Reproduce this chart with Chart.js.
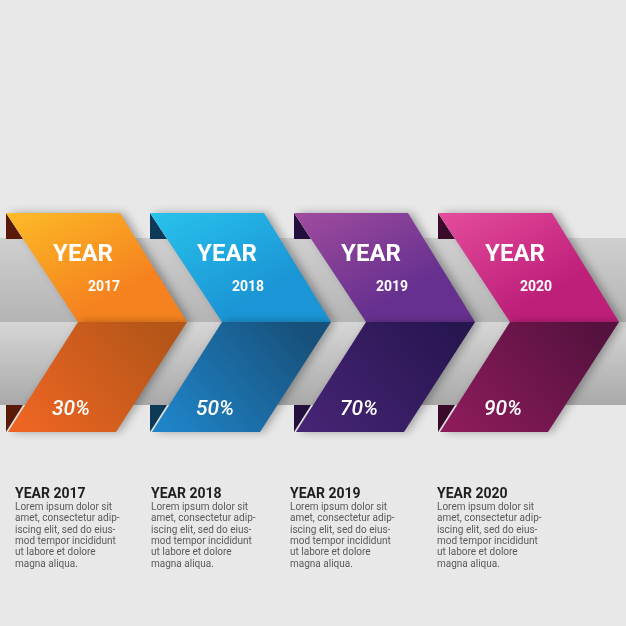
<!DOCTYPE html>
<html><head><meta charset="utf-8">
<script src="https://cdn.jsdelivr.net/npm/chart.js@4"></script>
<style>html,body{margin:0;padding:0;background:#e8e8e8;}#c{display:block}</style>
</head><body>
<div style="width:626px;height:626px"><canvas id="c"></canvas></div>
<script>
const years = ["2017","2018","2019","2020"];
const percents = [30,50,70,90];
const topColors = [["#fdbb27","#f5821f"],["#28c3ec","#1b95d5"],["#a04c9e","#66308f"],["#e64d9c","#bd1f79"]];
const botColors = [["#ee6523","#b35618"],["#1f84c8","#17507a"],["#452474","#281651"],["#8d1b5c","#55123f"]];
const darkTri = ["#5a1a0a","#0e3a5a","#24103f","#3a0a2a"];
const textX = [15,151,290,437];
const bodyLines = ["Lorem ipsum dolor sit","amet, consectetur adip-","iscing elit, sed do eius-","mod tempor incididunt","ut labore et dolore","magna aliqua."];

const plugin = {
  id:'chev',
  beforeDatasetsDraw(chart){
    const ctx=chart.ctx, xs=chart.scales.x, ys=chart.scales.y;
    const Y=v=>ys.getPixelForValue(v);
    const top=Y(213), mid=Y(322), bot=Y(432), bandT=Y(238), bandB=Y(405);
    let g=ctx.createLinearGradient(0,bandT,0,mid);
    g.addColorStop(0,'#cfcfcf');g.addColorStop(1,'#b4b4b4');
    ctx.fillStyle=g;ctx.fillRect(0,bandT,626,mid-bandT);
    g=ctx.createLinearGradient(0,mid,0,bandB);
    g.addColorStop(0,'#d6d6d6');g.addColorStop(1,'#a9a9a9');
    ctx.fillStyle=g;ctx.fillRect(0,mid,626,bandB-mid);
    years.forEach((yr,i)=>{
      const L=xs.getPixelForValue(i);
      ctx.fillStyle=darkTri[i];
      ctx.beginPath();ctx.moveTo(L,top);ctx.lineTo(L+17,top+26);ctx.lineTo(L,top+26);ctx.closePath();ctx.fill();
      ctx.beginPath();ctx.moveTo(L,bot-27);ctx.lineTo(L+17,bot-27);ctx.lineTo(L,bot);ctx.closePath();ctx.fill();
      ctx.save();ctx.shadowColor='rgba(0,0,0,0.3)';ctx.shadowBlur=8;ctx.shadowOffsetX=4;
      g=ctx.createLinearGradient(L,top,L+60,mid);
      g.addColorStop(0,topColors[i][0]);g.addColorStop(1,topColors[i][1]);
      ctx.fillStyle=g;ctx.beginPath();
      ctx.moveTo(L,top);ctx.lineTo(L+114,top);ctx.lineTo(L+181,mid);ctx.lineTo(L+72,mid);ctx.closePath();ctx.fill();
      g=ctx.createLinearGradient(L+20,bot,L+150,mid);
      g.addColorStop(0,botColors[i][0]);g.addColorStop(1,botColors[i][1]);
      ctx.fillStyle=g;ctx.beginPath();
      ctx.moveTo(L+72,mid);ctx.lineTo(L+181,mid);ctx.lineTo(L+110,bot);ctx.lineTo(L+2,bot);ctx.closePath();ctx.fill();
      ctx.restore();
      ctx.fillStyle='#fff';ctx.textAlign='center';ctx.textBaseline='middle';
      ctx.font='bold 24px Roboto';ctx.fillText('YEAR',L+77,Y(255));
      ctx.font='bold 14px Roboto';ctx.fillText(yr,L+98,Y(287));
      ctx.font='italic 500 21px Roboto';ctx.fillText(percents[i]+'%',L+65,Y(410));
      ctx.textAlign='left';ctx.textBaseline='alphabetic';
      ctx.fillStyle='#1e1e1e';ctx.font='bold 14px Roboto';
      ctx.fillText('YEAR '+yr,textX[i],Y(498));
      ctx.fillStyle='#5a5a5a';ctx.font='10px Roboto';
      bodyLines.forEach((t,k)=>ctx.fillText(t,textX[i],Y(510+11.3*k)));
    });
  }
};
new Chart(document.getElementById('c'),{
  type:'scatter',
  data:{datasets:[{data:percents.map((p,i)=>({x:i,y:0})),pointRadius:0}]},
  options:{responsive:true,maintainAspectRatio:false,animation:false,
    layout:{padding:0},
    plugins:{legend:{display:false},tooltip:{enabled:false}},
    scales:{x:{type:'linear',min:-6/144,max:620/144,display:false},
            y:{type:'linear',min:0,max:626,reverse:true,display:false}}},
  plugins:[plugin]
});
</script></body></html>
